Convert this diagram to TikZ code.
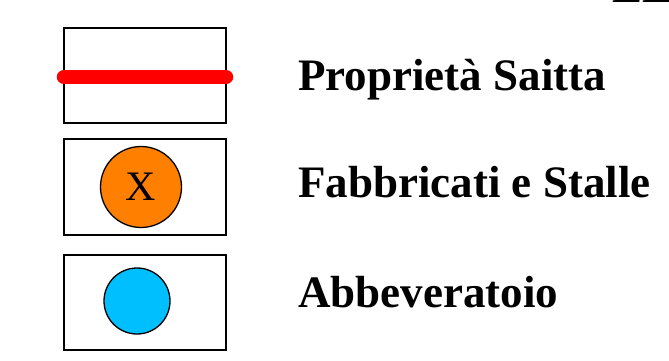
\documentclass[tikz,border=0pt]{standalone}
\usepackage{fontspec}
\setmainfont{Liberation Serif}
\definecolor{saittared}{HTML}{FF0000}
\definecolor{fabborange}{HTML}{FF8000}
\definecolor{abbblue}{HTML}{00BFFF}
\begin{document}
\begin{tikzpicture}[x=1pt,y=-1pt,
  legbox/.style={draw=black,line width=1.5pt,fill=white},
  legtext/.style={anchor=base west,inner sep=0pt,font=\fontsize{45}{49}\selectfont\bfseries},
  mark circ/.style={circle,draw=black,line width=1.3pt,inner sep=0pt}]
\useasboundingbox (0,0) rectangle (669,361);
\clip (0,0) rectangle (669,361);
\node[legtext] (title) at (612,3) {LE};
% box 1
\draw[legbox] (64,28) rectangle (226,123);
\coordinate (r1) at (64,77);
\coordinate (r2) at (226,77);
\draw[saittared,line width=14.5pt,line cap=round] (r1) -- (r2);
\node[legtext] (t1) at (298,90) {Proprietà Saitta};
% box 2
\draw[legbox] (64,139) rectangle (226,235);
\node[mark circ,fill=fabborange,minimum size=81pt,font=\fontsize{42}{46}\selectfont] (c2) at (141,187) {X};
\node[legtext] (t2) at (298,197) {Fabbricati e Stalle};
% box 3
\draw[legbox] (64,255) rectangle (226,350);
\node[mark circ,fill=abbblue,minimum size=66pt] (c3) at (137,301) {};
\node[legtext] (t3) at (298,307) {Abbeveratoio};
\end{tikzpicture}
\end{document}
